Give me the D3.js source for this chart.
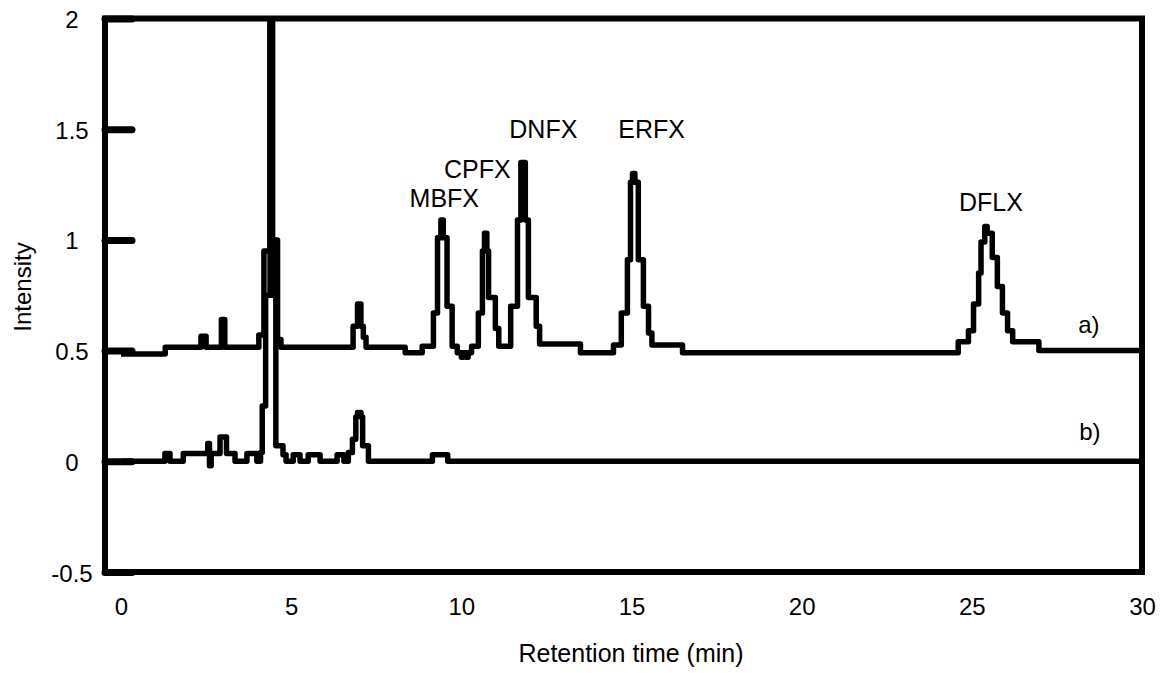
<!DOCTYPE html>
<html>
<head>
<meta charset="utf-8">
<script src="https://cdn.jsdelivr.net/npm/d3@7"></script>
<style>
  body { margin: 0; background: #fff; }
  text { font-family: "Liberation Sans", Arial, sans-serif; fill: #000; }
</style>
</head>
<body>
<script>
// Chromatogram traces, step values (time in min, intensity)
var aTime = [0, 1.3, 2.35, 2.5, 2.95, 3.05, 4.05, 4.2, 4.38, 4.45, 4.6, 4.7,
  6.82, 6.95, 7.05, 7.12, 7.2, 8.35, 8.85, 9.18, 9.3, 9.4, 9.47, 9.58, 9.73,
  9.88, 10.0, 10.05, 10.15, 10.2, 10.3, 10.5, 10.62, 10.68, 10.75, 10.8, 11.0,
  11.1, 11.45, 11.65, 11.75, 11.88, 11.97, 12.2, 12.3, 13.5, 14.47, 14.7, 14.88,
  14.97, 15.03, 15.1, 15.2, 15.35, 15.5, 15.6, 16.5, 24.6, 24.9, 25.05, 25.2,
  25.27, 25.38, 25.45, 25.6, 25.75, 25.9, 26.05, 26.2, 26.97, 30];
var aValue = [0.485, 0.515, 0.565, 0.515, 0.64, 0.515, 0.57, 0.95, 2.3, 1.0, 0.55, 0.515,
  0.61, 0.71, 0.61, 0.56, 0.515, 0.49, 0.52, 0.67, 1.01, 1.09, 1.01, 0.70, 0.52,
  0.49, 0.47, 0.49, 0.47, 0.49, 0.52, 0.67, 0.95, 1.03, 0.95, 0.74, 0.60,
  0.52, 0.70, 1.09, 1.35, 1.09, 0.74, 0.61, 0.53, 0.49, 0.525, 0.67, 0.91,
  1.26, 1.30, 1.26, 0.91, 0.70, 0.58, 0.525, 0.49, 0.54, 0.59, 0.71, 0.85,
  0.99, 1.06, 1.03, 0.92, 0.79, 0.67, 0.59, 0.54, 0.50, 0.50];

var bTime = [0, 1.29, 1.44, 1.83, 2.55, 2.6, 2.65, 2.91, 3.1, 3.35, 3.7, 3.99,
  4.1, 4.15, 4.25, 4.38, 4.45, 4.55, 4.76, 4.85, 5.06, 5.26, 5.5, 5.85, 6.35,
  6.55, 6.68, 6.8, 6.9, 6.95, 7.05, 7.1, 7.27, 9.15, 9.6, 30];
var bValue = [0, 0.035, 0, 0.035, 0.08, -0.02, 0.035, 0.11, 0.035, 0, 0.035, 0,
  0.04, 0.25, 0.75, 2.3, 0.75, 0.07, 0.03, 0, 0.03, 0, 0.03, 0, 0.03,
  0, 0.04, 0.10, 0.2, 0.22, 0.2, 0.07, 0, 0.03, 0, 0];

var xTicks = [0, 5, 10, 15, 20, 25, 30];
var yTicks = [-0.5, 0, 0.5, 1, 1.5, 2];

var peakNames = ["MBFX", "CPFX", "DNFX", "ERFX", "DFLX"];
var peakX = [9.5, 10.47, 12.41, 15.59, 25.56];
var peakY = [1.15, 1.28, 1.46, 1.46, 1.13];

var traceNames = ["a)", "b)"];
var traceLabelX = [28.44, 28.47];
var traceLabelY = [0.58, 0.095];

var svgWidth = 1163;
var svgHeight = 673;

var svg = d3.select("body")
  .append("svg")
  .attr("width", svgWidth)
  .attr("height", svgHeight);

var xScale = d3.scaleLinear()
  .domain([-0.47, 30])
  .range([105, 1142]);

var yScale = d3.scaleLinear()
  .domain([-0.5, 2])
  .range([572, 18.5]);

var plotLeft = xScale(-0.47), plotRight = xScale(30);
var plotTop = yScale(2), plotBottom = yScale(-0.5);

svg.append("clipPath")
  .attr("id", "plotClip")
  .append("rect")
  .attr("x", plotLeft)
  .attr("y", plotTop)
  .attr("width", plotRight - plotLeft)
  .attr("height", plotBottom - plotTop);

// traces
var line = d3.line()
  .x(d => xScale(d[0]))
  .y(d => yScale(d[1]))
  .curve(d3.curveStepAfter);

var traces = [d3.zip(aTime, aValue), d3.zip(bTime, bValue)];

svg.append("g")
  .attr("clip-path", "url(#plotClip)")
  .selectAll("path")
  .data(traces)
  .enter()
  .append("path")
  .attr("d", line)
  .attr("fill", "none")
  .attr("stroke", "#000")
  .attr("stroke-width", 5.5)
  .attr("stroke-linejoin", "round");

// y axis: inward ticks, centred labels
var yAxis = svg.append("g")
  .attr("transform", `translate(${plotLeft},0)`)
  .call(d3.axisLeft(yScale).tickValues(yTicks).tickSize(-27).tickFormat(d => String(d)));
yAxis.select(".domain").remove();
yAxis.selectAll(".tick line")
  .attr("stroke", "#000")
  .attr("stroke-width", 7)
  .attr("stroke-linecap", "round");
yAxis.selectAll(".tick text")
  .attr("x", 72 - plotLeft)
  .attr("dy", null)
  .attr("y", 9)
  .attr("text-anchor", "middle")
  .style("font-size", "24px");

// x axis: labels only
var xAxis = svg.append("g")
  .attr("transform", `translate(0,${plotBottom})`)
  .call(d3.axisBottom(xScale).tickValues(xTicks).tickSize(0));
xAxis.select(".domain").remove();
xAxis.selectAll(".tick text")
  .attr("dy", null)
  .attr("y", 43)
  .style("font-size", "24px");

// frame
svg.append("rect")
  .attr("x", plotLeft)
  .attr("y", plotTop)
  .attr("width", plotRight - plotLeft)
  .attr("height", plotBottom - plotTop)
  .attr("fill", "none")
  .attr("stroke", "#000")
  .attr("stroke-width", 6);

// peak labels
svg.selectAll(".peak")
  .data(peakNames)
  .enter()
  .append("text")
  .attr("class", "peak")
  .attr("x", (d, i) => xScale(peakX[i]))
  .attr("y", (d, i) => yScale(peakY[i]))
  .attr("text-anchor", "middle")
  .style("font-size", "25px")
  .text(d => d);

svg.selectAll(".trace-label")
  .data(traceNames)
  .enter()
  .append("text")
  .attr("class", "trace-label")
  .attr("x", (d, i) => xScale(traceLabelX[i]))
  .attr("y", (d, i) => yScale(traceLabelY[i]))
  .attr("text-anchor", "middle")
  .style("font-size", "24px")
  .text(d => d);

// axis titles
svg.append("text")
  .attr("x", 631)
  .attr("y", 662)
  .attr("text-anchor", "middle")
  .style("font-size", "25px")
  .text("Retention time (min)");

svg.append("text")
  .attr("transform", "rotate(-90)")
  .attr("x", -287)
  .attr("y", 31)
  .attr("text-anchor", "middle")
  .style("font-size", "24px")
  .text("Intensity");
</script>
</body>
</html>
